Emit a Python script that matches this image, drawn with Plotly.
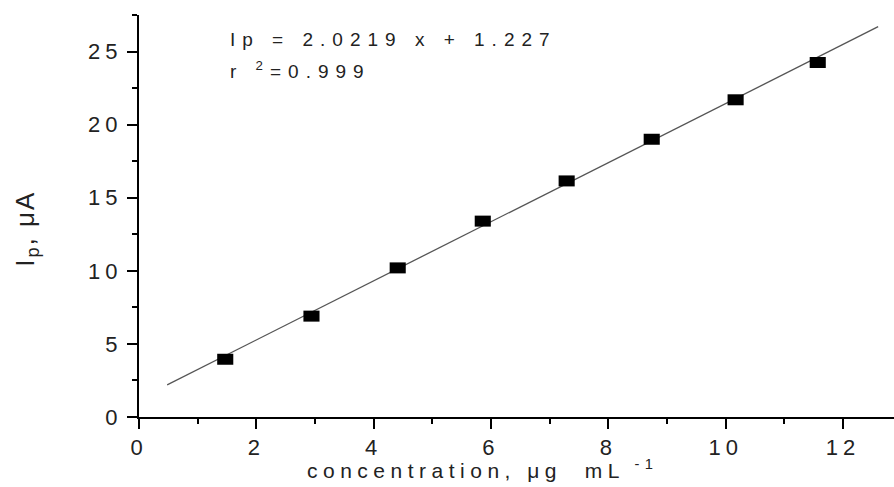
import plotly.graph_objects as go

# Calibration data: peak current vs concentration
conc = [1.47, 2.94, 4.41, 5.86, 7.29, 8.74, 10.17, 11.57]
ip = [3.95, 6.9, 10.2, 13.4, 16.15, 19.0, 21.7, 24.25]

# Linear regression reported on the plot
slope = 2.0219
intercept = 1.227
r2 = 0.999
fit_x = [0.48, 12.6]
fit_y = [slope * x + intercept for x in fit_x]

xticks = [0, 2, 4, 6, 8, 10, 12]
yticks = [0, 5, 10, 15, 20, 25]

FONT = "Liberation Sans, Arial, sans-serif"

fig = go.Figure()

fig.add_trace(go.Scatter(
    x=fit_x, y=fit_y, mode="lines",
    line=dict(color="#555555", width=1.3),
    hoverinfo="skip", showlegend=False,
))

# wide rectangular markers: a thick horizontal dash
fig.add_trace(go.Scatter(
    x=conc, y=ip, mode="markers",
    marker=dict(symbol="line-ew", size=11.5, color="black",
                line=dict(color="black", width=11)),
    showlegend=False,
))

axis_common = dict(
    showline=True, linecolor="black", linewidth=2,
    ticks="outside", ticklen=10, tickwidth=2, tickcolor="black",
    showgrid=False, zeroline=False,
    tickfont=dict(family=FONT, size=22, color="#222222"),
)

fig.update_xaxes(
    range=[0, 12.87], tickvals=xticks, ticktext=[str(v) for v in xticks],
    minor=dict(dtick=1, tick0=0, ticks="outside", ticklen=5, tickwidth=2,
               tickcolor="black", showgrid=False),
    ticklabelstandoff=0,
    **axis_common,
)
fig.update_yaxes(
    range=[0, 27.5], tickvals=yticks, ticktext=[str(v) for v in yticks],
    minor=dict(dtick=2.5, tick0=0, ticks="outside", ticklen=5, tickwidth=2,
               tickcolor="black", showgrid=False),
    ticklabelstandoff=0,
    **axis_common,
)

annotations = [
    dict(text=f"Ip = {slope} x + {intercept}", x=0.118, y=0.940,
         xanchor="left", yanchor="middle", align="left", font=dict(size=19)),
    dict(text=f"r <sup>2</sup>={r2}", x=0.118, y=0.862,
         xanchor="left", yanchor="middle", align="left", font=dict(size=19)),
    dict(text="concentration, μg  mL<sup> -1</sup>", x=0.456, y=-0.13,
         xanchor="center", yanchor="middle", font=dict(size=21)),
    dict(text="I<sub>p</sub>, μA", x=-0.15, y=0.47, textangle=-90,
         xanchor="center", yanchor="middle", font=dict(size=26)),
]
for a in annotations:
    a.update(xref="paper", yref="paper", showarrow=False)
    a["font"].update(family=FONT, color="#222222")

fig.update_layout(
    width=894, height=487, autosize=False,
    margin=dict(l=139, r=0, t=15, b=70),
    paper_bgcolor="white", plot_bgcolor="white",
    annotations=annotations,
)

# widen the letter spacing of the labels, then redraw so sizes are re-measured
post = """
var s = document.createElement('style');
s.textContent = '.xtick text, .ytick text {letter-spacing: 5px;}' +
  'g.annotation[data-index="0"] text, g.annotation[data-index="1"] text {letter-spacing: 7px;}' +
  'g.annotation[data-index="2"] text {letter-spacing: 5.5px;}' +
  'g.annotation[data-index="3"] text {letter-spacing: 2px;}';
document.head.appendChild(s);
var gd = document.getElementById('{plot_id}');
Plotly.newPlot(gd, gd.data, gd.layout, {displayModeBar: false});
"""

fig.write_html("out.html", config={"displayModeBar": False}, post_script=post)
